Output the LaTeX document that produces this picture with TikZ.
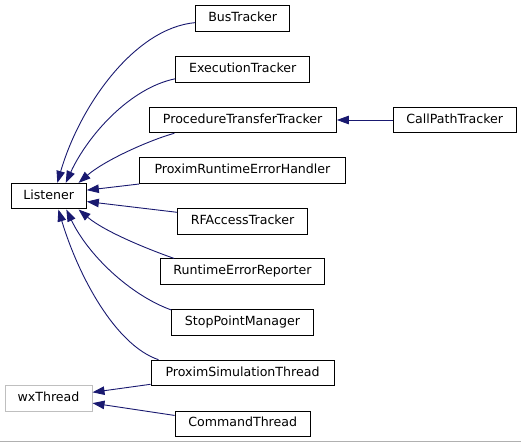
\documentclass[tikz,border=0pt]{standalone}
\usepackage{fontspec}
\setmainfont{DejaVu Sans}
\usetikzlibrary{arrows.meta}
\definecolor{edgec}{HTML}{191970}
\definecolor{wxgray}{HTML}{BFBFBF}
\definecolor{linegray}{HTML}{B0B0B0}
\begin{document}
\begin{tikzpicture}[x=1pt,y=-1pt,
  box/.style={draw=black,line width=1pt,fill=white,minimum height=25.6pt,inner sep=0pt,
    font=\fontsize{12.6}{15}\selectfont,text height=9.2pt,text depth=3pt},
  graybox/.style={box,draw=wxgray},
  edge/.style={draw=edgec,line width=0.9pt,-{Triangle[length=12pt,width=8.5pt,fill=edgec]}}]
\fill[white] (0,0) rectangle (521,443);
\useasboundingbox (0,0) rectangle (521,443);
\draw[linegray,line width=1pt] (0,441.5) -- (521,441.5);
\node[box,minimum width=94pt] (bus) at (242.6,18.5) {BusTracker};
\node[box,minimum width=134pt] (exec) at (242.7,69.3) {ExecutionTracker};
\node[box,minimum width=187.3pt] (proc) at (242.7,120) {ProcedureTransferTracker};
\node[box,minimum width=123.3pt] (call) at (454.7,120) {CallPathTracker};
\node[box,minimum width=205.6pt] (preh) at (242.5,170.7) {ProximRuntimeErrorHandler};
\node[box,minimum width=75.3pt] (listener) at (48.7,196.2) {Listener};
\node[box,minimum width=129.6pt] (rf) at (242.5,221.5) {RFAccessTracker};
\node[box,minimum width=164.4pt] (rer) at (242.5,271.7) {RuntimeErrorReporter};
\node[box,minimum width=141.6pt] (spm) at (242.5,322.5) {StopPointManager};
\node[box,minimum width=183pt] (pst) at (242.5,373) {ProximSimulationThread};
\node[graybox,minimum width=87pt] (wx) at (48.5,398.5) {wxThread};
\node[box,minimum width=135.3pt] (cmd) at (242.7,423.8) {CommandThread};
\draw[edge] (bus.185) .. controls (135,28) and (80,105) .. (listener.57);
\draw[edge] (exec.188) .. controls (130,88) and (88,135) .. (listener.38);
\draw[edge] (proc.191) .. controls (150,140) and (105,160) .. (listener.24);
\draw[edge] (preh.south west) -- (listener.9);
\draw[edge] (rf.172) -- (listener.-8);
\draw[edge] (rer.169) .. controls (150,250) and (105,232) .. (listener.-24);
\draw[edge] (spm.170) .. controls (130,295) and (88,255) .. (listener.-37);
\draw[edge] (pst.171) .. controls (115,345) and (78,275) .. (listener.-54);
\draw[edge] (pst.187) -- (wx.8);
\draw[edge] (cmd.173) -- (wx.-6);
\draw[edge] (call.west) -- (proc.east);
\end{tikzpicture}
\end{document}
